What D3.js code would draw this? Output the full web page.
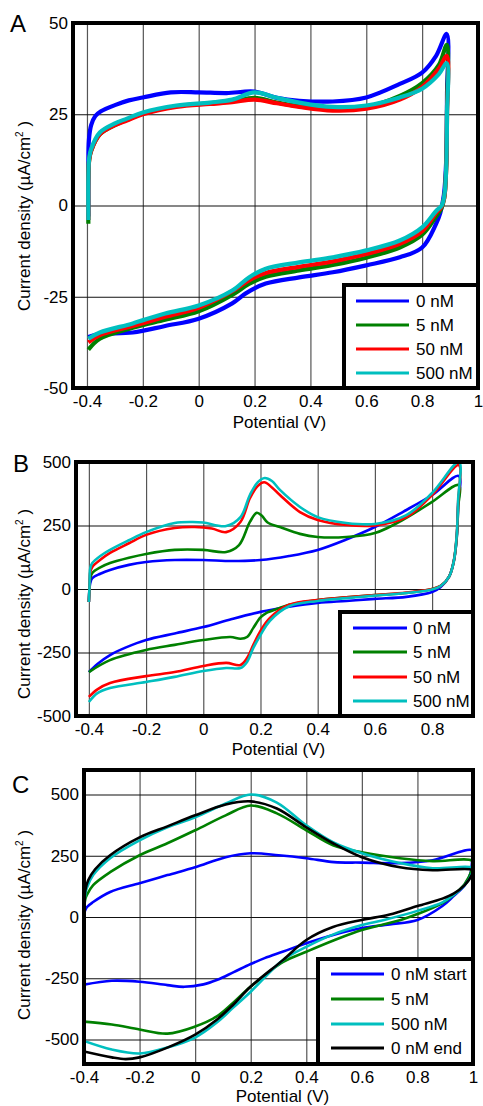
<!DOCTYPE html>
<html>
<head>
<meta charset="utf-8">
<script src="https://cdn.jsdelivr.net/npm/d3@7"></script>
<style>
  body { margin: 0; background: #fff; }
  svg { display: block; }
</style>
</head>
<body>
<script>
// ---- tick labels ----
const xTicksA = [-0.4, -0.2, 0, 0.2, 0.4, 0.6, 0.8, 1];
const yTicksA = [-50, -25, 0, 25, 50];
const xTicksB = [-0.4, -0.2, 0, 0.2, 0.4, 0.6, 0.8];
const yTicksB = [-500, -250, 0, 250, 500];
const xTicksC = [-0.4, -0.2, 0, 0.2, 0.4, 0.6, 0.8, 1];
const yTicksC = [-500, -250, 0, 250, 500];

// ---- legend labels ----
const namesAB = ["0 nM", "5 nM", "50 nM", "500 nM"];
const namesC = ["0 nM start", "5 nM", "500 nM", "0 nM end"];

// ---- panel A : [potential V, current density uA/cm2] along the scan ----
const a0nM = [[-0.395,-3],[-0.395,10],[-0.393,18],[-0.385,22],[-0.37,24.5],[-0.35,25.8],[-0.3,27.5],[-0.25,28.8],[-0.2,29.6],[-0.1,31],[0,31],[0.1,30.8],[0.2,31.2],[0.28,29.5],[0.36,28.7],[0.48,28.5],[0.6,29.6],[0.72,33.3],[0.8,36.4],[0.85,41],[0.888,47],
  [0.889,30],[0.886,12],[0.878,3],[0.865,-2],[0.85,-5],[0.8,-11.5],[0.72,-14.2],[0.6,-16.4],[0.48,-18.3],[0.36,-19.7],[0.24,-21.4],[0.17,-24],[0.12,-26.8],[0,-31],[-0.12,-33],[-0.236,-34.8],[-0.354,-35.2],[-0.395,-36]];
const a5nM = [[-0.395,-5],[-0.395,8],[-0.392,12.5],[-0.385,15],[-0.354,19.5],[-0.3,22],[-0.257,23.5],[-0.2,25.2],[-0.08,27.2],[0.04,28],[0.12,28.5],[0.2,29.5],[0.28,28.2],[0.36,27.2],[0.48,26.5],[0.6,27],[0.72,30],[0.8,33.5],[0.86,38.5],[0.888,44],
  [0.889,26],[0.886,10],[0.879,2],[0.868,-1],[0.85,-3],[0.8,-8],[0.72,-11.5],[0.6,-14.3],[0.48,-16.3],[0.36,-17.8],[0.24,-19.5],[0.18,-21.5],[0.12,-24.5],[0,-29],[-0.12,-31.3],[-0.236,-33.5],[-0.354,-36.5],[-0.395,-39.5]];
const a50nM = [[-0.395,-4],[-0.395,8],[-0.392,12.5],[-0.385,15],[-0.354,19.5],[-0.3,22],[-0.257,23.3],[-0.2,25],[-0.08,27],[0.04,27.8],[0.12,28.3],[0.2,29],[0.28,28],[0.36,27],[0.48,26],[0.6,26.5],[0.72,29],[0.8,32.5],[0.86,37.5],[0.888,41],
  [0.889,25],[0.886,10],[0.879,2],[0.868,-0.5],[0.85,-2],[0.8,-7],[0.72,-10.5],[0.6,-13.3],[0.48,-15.3],[0.36,-16.8],[0.24,-18.5],[0.18,-20.5],[0.12,-23.5],[0,-28],[-0.12,-30.5],[-0.236,-33],[-0.354,-35.5],[-0.395,-37.5]];
const a500nM = [[-0.395,-4],[-0.395,8],[-0.392,13],[-0.385,15.5],[-0.354,20],[-0.3,22.5],[-0.257,23.8],[-0.2,25.5],[-0.08,27.4],[0.04,28.2],[0.12,29],[0.2,31],[0.28,29.5],[0.36,28.2],[0.48,27],[0.6,27.4],[0.72,29.6],[0.8,32],[0.86,36],[0.888,39],
  [0.889,25],[0.886,10],[0.88,3],[0.87,0],[0.85,-1.5],[0.8,-6],[0.72,-9.6],[0.6,-12.3],[0.48,-14.2],[0.36,-15.6],[0.24,-17.3],[0.18,-19.7],[0.12,-23.3],[0,-27.4],[-0.12,-29.6],[-0.236,-32.3],[-0.354,-34.8],[-0.395,-36.5]];

// ---- panel B ----
const b0nM = [[-0.4,-51],[-0.398,0],[-0.395,24],[-0.388,43],[-0.36,60],[-0.326,75],[-0.26,95],[-0.2,106],[-0.1,114],[0,114],[0.1,110],[0.2,114],[0.3,130],[0.4,154],[0.5,195],[0.6,244],[0.7,305],[0.8,370],[0.893,445],
  [0.891,330],[0.886,200],[0.876,110],[0.86,50],[0.83,8],[0.8,-12],[0.71,-31],[0.6,-39],[0.5,-47],[0.4,-55],[0.3,-70],[0.2,-90],[0.1,-118],[0,-150],[-0.1,-175],[-0.2,-201],[-0.27,-230],[-0.326,-260],[-0.37,-295],[-0.4,-327]];
const b5nM = [[-0.4,-51],[-0.398,0],[-0.395,43],[-0.388,63],[-0.36,85],[-0.326,102],[-0.26,123],[-0.2,138],[-0.1,154],[0,154],[0.08,146],[0.125,173],[0.163,264],[0.187,300],[0.205,288],[0.225,262],[0.268,244],[0.338,217],[0.4,205],[0.5,205],[0.6,220],[0.71,280],[0.8,343],[0.893,409],
  [0.891,320],[0.886,200],[0.876,110],[0.86,50],[0.83,12],[0.8,0],[0.71,-16],[0.6,-24],[0.5,-33],[0.4,-43],[0.3,-62],[0.26,-78],[0.22,-95],[0.2,-112],[0.175,-153],[0.153,-189],[0.13,-196],[0.095,-189],[0,-201],[-0.1,-220],[-0.2,-240],[-0.326,-280],[-0.4,-327]];
const b50nM = [[-0.4,-51],[-0.398,0],[-0.395,67],[-0.388,87],[-0.36,115],[-0.326,142],[-0.26,180],[-0.2,213],[-0.1,240],[-0.03,244],[0.03,238],[0.08,224],[0.13,264],[0.163,358],[0.19,405],[0.213,420],[0.24,400],[0.268,370],[0.338,303],[0.4,272],[0.5,252],[0.6,250],[0.71,283],[0.8,370],[0.893,488],
  [0.891,340],[0.886,210],[0.876,110],[0.86,50],[0.83,12],[0.8,0],[0.71,-14],[0.6,-24],[0.5,-33],[0.4,-43],[0.3,-62],[0.233,-114],[0.2,-165],[0.175,-220],[0.153,-272],[0.13,-299],[0.08,-291],[0,-303],[-0.1,-327],[-0.2,-343],[-0.326,-370],[-0.37,-395],[-0.4,-425]];
const b500nM = [[-0.4,-51],[-0.398,0],[-0.395,83],[-0.388,102],[-0.36,130],[-0.326,154],[-0.26,192],[-0.2,224],[-0.1,260],[-0.04,264],[0,262],[0.08,248],[0.13,283],[0.163,370],[0.19,420],[0.215,437],[0.24,425],[0.268,390],[0.338,323],[0.4,283],[0.5,260],[0.6,256],[0.71,291],[0.8,378],[0.894,500],
  [0.891,350],[0.886,210],[0.876,110],[0.86,50],[0.83,12],[0.8,-2],[0.71,-16],[0.6,-26],[0.5,-36],[0.4,-47],[0.3,-68],[0.233,-125],[0.2,-181],[0.175,-232],[0.153,-287],[0.13,-311],[0.08,-311],[0,-323],[-0.1,-346],[-0.2,-366],[-0.326,-390],[-0.37,-410],[-0.4,-445]];

// ---- panel C ----
const c0nMStart = [[-0.4,0],[-0.398,20],[-0.39,40],[-0.367,61],[-0.306,102],[-0.2,138],[-0.1,171],[0,203],[0.11,244],[0.2,260],[0.3,252],[0.4,240],[0.5,224],[0.6,222],[0.74,220],[0.855,232],[0.998,272],
  [0.997,230],[0.99,175],[0.97,130],[0.93,85],[0.89,45],[0.8,-12],[0.7,-30],[0.6,-45],[0.5,-72],[0.4,-107],[0.317,-141],[0.25,-168],[0.2,-192],[0.137,-226],[0.08,-256],[0.03,-275],[-0.04,-285],[-0.1,-278],[-0.2,-264],[-0.3,-260],[-0.4,-276]];
const c5nM = [[-0.4,-20],[-0.399,40],[-0.395,75],[-0.39,89],[-0.367,130],[-0.306,183],[-0.2,252],[-0.1,301],[0,354],[0.11,415],[0.2,455],[0.294,423],[0.4,354],[0.496,293],[0.6,264],[0.737,240],[0.855,228],[0.998,228],
  [0.995,190],[0.97,135],[0.93,90],[0.89,57],[0.8,12],[0.74,-12],[0.6,-53],[0.5,-95],[0.4,-142],[0.317,-183],[0.2,-284],[0.137,-350],[0.078,-406],[0,-447],[-0.1,-476],[-0.2,-459],[-0.3,-439],[-0.4,-427]];
const c500nM = [[-0.4,-20],[-0.399,50],[-0.395,95],[-0.39,118],[-0.367,171],[-0.306,240],[-0.2,313],[-0.1,366],[0,407],[0.11,463],[0.2,500],[0.294,467],[0.4,374],[0.496,305],[0.6,260],[0.737,220],[0.855,199],[0.998,199],
  [0.995,175],[0.97,130],[0.93,90],[0.89,60],[0.8,25],[0.68,-12],[0.6,-33],[0.5,-70],[0.4,-122],[0.317,-175],[0.2,-305],[0.137,-370],[0.078,-431],[0,-492],[-0.1,-533],[-0.2,-557],[-0.3,-541],[-0.4,-506]];
const c0nMEnd = [[-0.4,-10],[-0.399,60],[-0.395,110],[-0.385,150],[-0.36,195],[-0.306,252],[-0.2,325],[-0.1,370],[0,415],[0.11,459],[0.2,472],[0.294,443],[0.4,366],[0.496,301],[0.6,244],[0.737,203],[0.855,191],[0.998,191],
  [0.995,170],[0.97,130],[0.93,95],[0.89,75],[0.8,45],[0.7,10],[0.6,-12],[0.496,-41],[0.4,-94],[0.317,-175],[0.2,-284],[0.137,-358],[0.078,-419],[0,-480],[-0.1,-533],[-0.2,-573],[-0.25,-580],[-0.3,-573],[-0.4,-549]];

const W = 483, H = 1106;
const font = "'Liberation Sans', Arial, Helvetica, sans-serif";

const svg = d3.select("body").append("svg")
  .attr("width", W)
  .attr("height", H)
  .style("background", "#fff");

function drawPanel(p, idx) {
  const x = d3.scaleLinear().domain(p.xDomain).range([p.left, p.right]);
  const y = d3.scaleLinear().domain(p.yDomain).range([p.bottom, p.top]);
  const g = svg.append("g");

  // grid
  g.append("g")
    .attr("transform", `translate(0,${p.bottom})`)
    .call(d3.axisBottom(x).tickValues(p.xTicks).tickSize(-(p.bottom - p.top)).tickFormat(""))
    .call(s => s.select(".domain").remove())
    .call(s => s.selectAll("line").attr("stroke", "#555").attr("stroke-width", 1.2));
  g.append("g")
    .attr("transform", `translate(${p.left},0)`)
    .call(d3.axisLeft(y).tickValues(p.yTicks).tickSize(-(p.right - p.left)).tickFormat(""))
    .call(s => s.select(".domain").remove())
    .call(s => s.selectAll("line").attr("stroke", "#111").attr("stroke-width", 1.2));

  // tick labels
  g.append("g")
    .attr("transform", `translate(0,${p.bottom})`)
    .call(d3.axisBottom(x).tickValues(p.xTicks).tickSize(0).tickPadding(7).tickFormat(d => String(d)))
    .call(s => s.select(".domain").remove())
    .attr("font-family", font).attr("font-size", 17)
    .call(s => s.selectAll("text").attr("fill", "#000"));
  g.append("g")
    .attr("transform", `translate(${p.left},0)`)
    .call(d3.axisLeft(y).tickValues(p.yTicks).tickSize(0).tickPadding(5).tickFormat(d => String(d)))
    .call(s => s.select(".domain").remove())
    .attr("font-family", font).attr("font-size", 17)
    .call(s => s.selectAll("text").attr("fill", "#000"));

  // curves
  const clipId = "clip" + idx;
  svg.append("clipPath").attr("id", clipId)
    .append("rect")
    .attr("x", p.left).attr("y", p.top)
    .attr("width", p.right - p.left).attr("height", p.bottom - p.top);

  const line = d3.line()
    .x(d => x(d[0]))
    .y(d => y(d[1]))
    .curve(d3.curveCatmullRom.alpha(0.5));

  g.append("g").attr("clip-path", `url(#${clipId})`)
    .selectAll("path")
    .data(p.series)
    .join("path")
    .attr("d", d => line(d.values))
    .attr("fill", "none")
    .attr("stroke", d => d.color)
    .attr("stroke-width", p.lw)
    .attr("stroke-linejoin", "round");

  // frame
  g.append("rect")
    .attr("x", p.left).attr("y", p.top)
    .attr("width", p.right - p.left).attr("height", p.bottom - p.top)
    .attr("fill", "none").attr("stroke", "#000").attr("stroke-width", 4);

  // panel letter
  g.append("text")
    .attr("x", p.letterPos[0]).attr("y", p.letterPos[1])
    .attr("font-family", font).attr("font-size", 24)
    .text(p.letter);

  // axis titles
  g.append("text")
    .attr("x", (p.left + p.right) / 2 + 4).attr("y", p.xlabelY)
    .attr("text-anchor", "middle")
    .attr("font-family", font).attr("font-size", 17)
    .text("Potential (V)");

  const yl = g.append("text")
    .attr("transform", `translate(30,${p.ylabelY}) rotate(-90)`)
    .attr("text-anchor", "middle")
    .attr("font-family", font).attr("font-size", 17);
  yl.append("tspan").text("Current density (µA/cm");
  yl.append("tspan").attr("font-size", 10).attr("dy", -7).text("2");
  yl.append("tspan").attr("dy", 7).text(" )");

  // legend
  const L = p.legend;
  g.append("rect")
    .attr("x", L.x).attr("y", L.y).attr("width", L.w).attr("height", L.h)
    .attr("fill", "#fff").attr("stroke", "#000").attr("stroke-width", 4);
  const items = g.append("g").selectAll("g")
    .data(p.series)
    .join("g")
    .attr("transform", (d, i) => `translate(0,${L.rows[i]})`);
  items.append("line")
    .attr("x1", L.lineX[0]).attr("x2", L.lineX[1])
    .attr("stroke", d => d.color).attr("stroke-width", 3);
  items.append("text")
    .attr("x", L.textX).attr("y", 6)
    .attr("font-family", font).attr("font-size", 17)
    .text(d => d.name);
}

const colors = ["#0000ff", "#008000", "#ff0000", "#00bfbf"];
const colorsC = ["#0000ff", "#008000", "#00bfbf", "#000000"];

const panels = [
  {
    letter: "A", letterPos: [10, 32],
    left: 73, right: 478, top: 23, bottom: 388,
    xDomain: [-0.45, 1.0], yDomain: [-50, 50],
    xTicks: xTicksA, yTicks: yTicksA, lw: 4.2,
    xlabelY: 428, ylabelY: 216,
    series: [a0nM, a5nM, a50nM, a500nM].map((v, i) => ({ values: v, color: colors[i], name: namesAB[i] })),
    legend: { x: 344, y: 285, w: 134, h: 103, rows: [301, 325, 349, 373], lineX: [356, 409], textX: 416 }
  },
  {
    letter: "B", letterPos: [13, 472],
    left: 76, right: 473, top: 462, bottom: 716,
    xDomain: [-0.445, 0.943], yDomain: [-500, 500],
    xTicks: xTicksB, yTicks: yTicksB, lw: 2.6,
    xlabelY: 755, ylabelY: 604,
    series: [b0nM, b5nM, b50nM, b500nM].map((v, i) => ({ values: v, color: colors[i], name: namesAB[i] })),
    legend: { x: 340, y: 612, w: 133, h: 104, rows: [628, 652, 677, 701], lineX: [353, 407], textX: 413 }
  },
  {
    letter: "C", letterPos: [12, 793],
    left: 84, right: 473, top: 770, bottom: 1064,
    xDomain: [-0.4, 1.0], yDomain: [-600, 600],
    xTicks: xTicksC, yTicks: yTicksC, lw: 2.6,
    xlabelY: 1102, ylabelY: 925,
    series: [c0nMStart, c5nM, c500nM, c0nMEnd].map((v, i) => ({ values: v, color: colorsC[i], name: namesC[i] })),
    legend: { x: 318, y: 959, w: 155, h: 105, rows: [974, 999, 1024, 1048], lineX: [331, 384], textX: 391 }
  }
];

panels.forEach(drawPanel);
</script>
</body>
</html>
